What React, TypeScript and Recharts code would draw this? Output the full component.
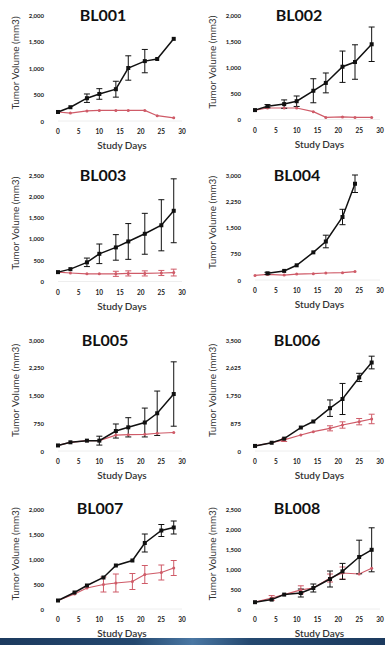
import { LineChart, Line, XAxis, YAxis, ErrorBar } from "recharts"

// BL001
const bl001Days = [0, 3, 7, 10, 14, 17, 21, 24, 28]
const bl001Vehicle = [170, 260, 430, 510, 600, 1000, 1130, 1170, 1550]
const bl001VehicleErr = [0, 0, 80, 100, 150, 230, 220, 0, 0]
const bl001Treated = [170, 150, 190, 200, 200, 200, 200, 100, 60]
const bl001TreatedErr = [0, 0, 0, 0, 0, 0, 0, 0, 0]

// BL002
const bl002Days = [0, 3, 7, 10, 14, 17, 21, 24, 28]
const bl002Vehicle = [180, 255, 295, 350, 550, 700, 1010, 1100, 1440]
const bl002VehicleErr = [0, 30, 80, 100, 230, 190, 300, 330, 330]
const bl002Treated = [180, 220, 220, 220, 150, 40, 50, 40, 40]
const bl002TreatedErr = [0, 0, 0, 0, 0, 0, 0, 0, 0]

// BL003
const bl003Days = [0, 3, 7, 10, 14, 17, 21, 25, 28]
const bl003Vehicle = [220, 290, 450, 650, 800, 940, 1120, 1320, 1660]
const bl003VehicleErr = [0, 0, 100, 230, 300, 420, 480, 600, 750]
const bl003Treated = [220, 200, 180, 180, 180, 190, 190, 200, 210]
const bl003TreatedErr = [0, 0, 0, 0, 60, 60, 60, 60, 80]

// BL004
const bl004Days = [0, 3, 7, 10, 14, 17, 21, 24]
const bl004Vehicle = [null, 190, 260, 420, 790, 1100, 1800, 2750]
const bl004VehicleErr = [0, 30, 0, 0, 0, 180, 220, 250]
const bl004Treated = [130, 160, 140, 170, 180, 200, 210, 240]
const bl004TreatedErr = [0, 0, 0, 0, 0, 0, 0, 0]

// BL005
const bl005Days = [0, 3, 7, 10, 14, 17, 21, 24, 28]
const bl005Vehicle = [150, 235, 280, 280, 540, 640, 770, 1020, 1540]
const bl005VehicleErr = [0, 0, 0, 120, 190, 260, 390, 600, 870]
const bl005Treated = [150, 235, 280, 280, 430, 440, 450, 480, 500]
const bl005TreatedErr = [0, 0, 0, 0, 0, 0, 0, 0, 0]

// BL006
const bl006Days = [0, 4, 7, 11, 14, 18, 21, 25, 28]
const bl006Vehicle = [160, 260, 390, 740, 930, 1350, 1640, 2320, 2790]
const bl006VehicleErr = [0, 0, 0, 0, 0, 260, 490, 130, 200]
const bl006Treated = [160, 260, 350, 505, 610, 715, 820, 925, 1010]
const bl006TreatedErr = [0, 0, 50, 0, 0, 80, 100, 100, 150]

// BL007
const bl007Days = [0, 4, 7, 11, 14, 18, 21, 25, 28]
const bl007Vehicle = [170, 330, 470, 630, 870, 970, 1320, 1570, 1630]
const bl007VehicleErr = [0, 0, 0, 0, 0, 0, 180, 120, 130]
const bl007Treated = [170, 300, 420, 490, 520, 550, 690, 730, 820]
const bl007TreatedErr = [0, 0, 0, 150, 180, 160, 180, 150, 150]

// BL008
const bl008Days = [0, 4, 7, 11, 14, 18, 21, 25, 28]
const bl008Vehicle = [170, 235, 360, 400, 525, 750, 940, 1300, 1480]
const bl008VehicleErr = [0, 0, 0, 100, 100, 200, 200, 420, 550]
const bl008Treated = [170, 275, 360, 480, 525, 775, 900, 875, 1020]
const bl008TreatedErr = [0, 60, 0, 100, 0, 100, 150, 0, 0]

const dayTicks = [0, 5, 10, 15, 20, 25, 30]
const ticks2000 = [0, 500, 1000, 1500, 2000]
const ticks2500 = [0, 500, 1000, 1500, 2000, 2500]
const ticks3000 = [0, 750, 1500, 2250, 3000]
const ticks3500 = [0, 875, 1750, 2625, 3500]

const FONT = "Lato, 'DejaVu Sans', sans-serif"
const RED = "#cf5b68"
const BLACK = "#111"

function buildRows(days: number[], veh: (number | null)[], vehErr: number[], trt: number[], trtErr: number[]) {
  return days.map((day, i) => ({
    day,
    vehicle: veh[i],
    vehicleErr: vehErr[i],
    treated: trt[i],
    treatedErr: trtErr[i],
  }))
}

// panel placement on the page (pixels of day 0 / day 30, top tick and zero)
const panels = [
  { title: "BL001", rows: buildRows(bl001Days, bl001Vehicle, bl001VehicleErr, bl001Treated, bl001TreatedErr), ticks: ticks2000, x0: 58, x30: 182, yTop: 15, yZero: 121, tx: 103, ty: 15 },
  { title: "BL002", rows: buildRows(bl002Days, bl002Vehicle, bl002VehicleErr, bl002Treated, bl002TreatedErr), ticks: ticks2000, x0: 255, x30: 380, yTop: 15, yZero: 119.5, tx: 299, ty: 15 },
  { title: "BL003", rows: buildRows(bl003Days, bl003Vehicle, bl003VehicleErr, bl003Treated, bl003TreatedErr), ticks: ticks2500, x0: 58, x30: 182, yTop: 175, yZero: 281.5, tx: 103, ty: 175 },
  { title: "BL004", rows: buildRows(bl004Days, bl004Vehicle, bl004VehicleErr, bl004Treated, bl004TreatedErr), ticks: ticks3000, x0: 255, x30: 380, yTop: 175, yZero: 280, tx: 297, ty: 175 },
  { title: "BL005", rows: buildRows(bl005Days, bl005Vehicle, bl005VehicleErr, bl005Treated, bl005TreatedErr), ticks: ticks3000, x0: 58, x30: 182, yTop: 340, yZero: 451, tx: 105, ty: 340 },
  { title: "BL006", rows: buildRows(bl006Days, bl006Vehicle, bl006VehicleErr, bl006Treated, bl006TreatedErr), ticks: ticks3500, x0: 255, x30: 380, yTop: 340, yZero: 451, tx: 297, ty: 340 },
  { title: "BL007", rows: buildRows(bl007Days, bl007Vehicle, bl007VehicleErr, bl007Treated, bl007TreatedErr), ticks: ticks2000, x0: 58, x30: 182, yTop: 509, yZero: 609, tx: 100, ty: 508 },
  { title: "BL008", rows: buildRows(bl008Days, bl008Vehicle, bl008VehicleErr, bl008Treated, bl008TreatedErr), ticks: ticks2500, x0: 255, x30: 380, yTop: 509, yZero: 609, tx: 297, ty: 508 },
]

const YW = 58
const TOP = 12
const RIGHT = 6
const XH = 32

const XTick = (props: any) => {
  const { x, y, payload } = props
  return (
    <text x={x} y={y + 10.5} textAnchor="middle" dominantBaseline="central" fontSize={6.5} fontWeight={700} fill="#222" fontFamily={FONT}>
      {payload.value}
    </text>
  )
}

const YTick = (props: any) => {
  const { x, y, payload } = props
  return (
    <text x={x - 14} y={y} textAnchor="end" dominantBaseline="central" fontSize={6} fontWeight={700} fill="#222" fontFamily={FONT}>
      {Number(payload.value).toLocaleString("en-US")}
    </text>
  )
}

const YLabel = (props: any) => {
  const { viewBox } = props
  const cx = viewBox.x + 15
  const cy = viewBox.y + viewBox.height / 2 - 5
  return (
    <text x={cx} y={cy} transform={`rotate(-90 ${cx} ${cy})`} textAnchor="middle" dominantBaseline="central" fontSize={10} fill="#333" fontFamily={FONT}>
      Tumor Volume (mm3)
    </text>
  )
}

const XLabel = (props: any) => {
  const { viewBox } = props
  return (
    <text x={viewBox.x + viewBox.width / 2 + 2} y={viewBox.y + 24} textAnchor="middle" dominantBaseline="central" fontSize={10} fontWeight={600} fill="#333" fontFamily={FONT}>
      Study Days
    </text>
  )
}

const Square = (props: any) => {
  const { cx, cy, index } = props
  if (cx == null || cy == null) return <g key={index} />
  return <rect key={index} x={cx - 2} y={cy - 2} width={4} height={4} fill={BLACK} />
}

const RedDot = (props: any) => {
  const { cx, cy, index } = props
  if (cx == null || cy == null) return <g key={index} />
  return <circle key={index} cx={cx} cy={cy} r={1.5} fill={RED} />
}

function Panel({ p }: { p: (typeof panels)[number] }) {
  const plotW = p.x30 - p.x0
  const plotH = p.yZero - p.yTop
  const width = YW + plotW + RIGHT
  const height = TOP + plotH + XH
  const max = p.ticks[p.ticks.length - 1]
  return (
    <>
      <div style={{ position: "absolute", left: p.x0 - YW, top: p.yTop - TOP, width, height }}>
        <LineChart width={width} height={height} data={p.rows} margin={{ top: TOP, right: RIGHT, bottom: 0, left: 0 }}>
          <XAxis
            dataKey="day"
            type="number"
            domain={[0, 30]}
            ticks={dayTicks}
            interval={0}
            height={XH}
            tickLine={false}
            tickSize={0}
            tickMargin={0}
            axisLine={{ stroke: "#eee", strokeWidth: 1 }}
            tick={<XTick />}
            label={<XLabel />}
          />
          <YAxis
            type="number"
            domain={[0, max]}
            ticks={p.ticks}
            interval={0}
            allowDataOverflow
            width={YW}
            tickLine={false}
            tickSize={0}
            tickMargin={0}
            axisLine={false}
            tick={<YTick />}
            label={<YLabel />}
          />
          <Line dataKey="treated" stroke={RED} strokeWidth={1.2} dot={<RedDot />} isAnimationActive={false}>
            <ErrorBar dataKey="treatedErr" direction="y" width={3} stroke={RED} strokeWidth={1} />
          </Line>
          <Line dataKey="vehicle" stroke={BLACK} strokeWidth={1.5} dot={<Square />} isAnimationActive={false}>
            <ErrorBar dataKey="vehicleErr" direction="y" width={3} stroke={BLACK} strokeWidth={1} />
          </Line>
        </LineChart>
      </div>
      <div
        style={{
          position: "absolute",
          left: p.tx - 40,
          top: p.ty - 10,
          width: 80,
          height: 20,
          lineHeight: "20px",
          textAlign: "center",
          fontFamily: FONT,
          fontWeight: 700,
          fontSize: 16,
          color: "#111",
        }}
      >
        {p.title}
      </div>
    </>
  )
}

export default function App() {
  return (
    <div style={{ position: "absolute", left: 0, top: 0, width: 385, height: 645, background: "#fff", overflow: "hidden" }}>
      {panels.map((p) => (
        <Panel key={p.title} p={p} />
      ))}
      <div
        style={{
          position: "absolute",
          left: 0,
          top: 638,
          width: 385,
          height: 7,
          background: "linear-gradient(to right, #1c3a5e 0%, #24486f 35%, #4a77a3 50%, #24486f 65%, #1c3a5e 100%)",
        }}
      />
    </div>
  )
}
